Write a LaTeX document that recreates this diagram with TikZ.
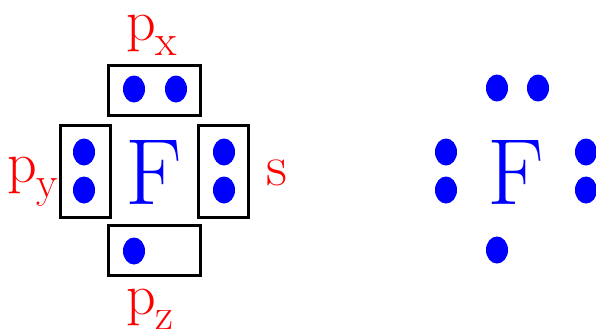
\documentclass[tikz,border=0pt]{standalone}
\usetikzlibrary{shapes.geometric}
\definecolor{elblue}{RGB}{0,0,255}
\definecolor{lblred}{RGB}{255,0,0}
\newcommand\orblabel[1]{p\raisebox{-15pt}{\fontsize{44}{44}\selectfont #1}}
\tikzset{
  edot/.style={ellipse, fill=elblue, draw=none, minimum width=22pt, minimum height=27pt, inner sep=0pt},
  orbbox/.style={draw=black, line width=3pt, inner sep=0pt},
  atom/.style={text=elblue, font=\rmfamily\fontsize{94}{94}\selectfont, inner sep=0pt, anchor=base},
  olabel/.style={text=lblred, font=\rmfamily\fontsize{58}{58}\selectfont, inner sep=0pt, anchor=base west},
}
\begin{document}
\begin{tikzpicture}[x=1pt,y=-1pt]
\useasboundingbox (0,0) rectangle (596,332);
% left figure boxes
\node[orbbox, minimum width=92pt, minimum height=50pt] (boxtop) at (154,90) {};
\node[orbbox, minimum width=92pt, minimum height=50pt] (boxbot) at (154,250.5) {};
\node[orbbox, minimum width=50pt, minimum height=92pt] (boxleft) at (85.5,171.5) {};
\node[orbbox, minimum width=50pt, minimum height=92pt] (boxright) at (223,171.5) {};
% dots in boxes
\node[edot] (t1) at (134,89) {};
\node[edot] (t2) at (176,89) {};
\node[edot] (l1) at (84,152) {};
\node[edot] (l2) at (84,190) {};
\node[edot] (r1) at (224,152) {};
\node[edot] (r2) at (224,190) {};
\node[edot] (b1) at (134,251) {};
% atom
\node[atom] (F1) at (154,204) {F};
% labels
\node[olabel] (px) at (126,40) {\orblabel{x}};
\node[olabel] (py) at (7,182) {\orblabel{y}};
\node[olabel] (s) at (266,185) {s};
\node[olabel] (pz) at (126,314) {\orblabel{z}};
% right figure
\node[edot] (u1) at (497,88) {};
\node[edot] (u2) at (538,88) {};
\node[edot] (v1) at (446,152) {};
\node[edot] (v2) at (446,190) {};
\node[edot] (w1) at (586,152) {};
\node[edot] (w2) at (586,190) {};
\node[edot] (d1) at (497,250) {};
\node[atom] (F2) at (516,204) {F};
\end{tikzpicture}
\end{document}
